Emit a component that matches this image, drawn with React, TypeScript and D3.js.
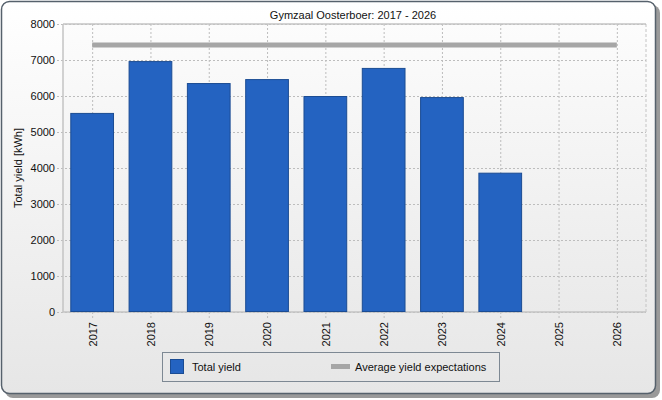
import { useEffect, useRef } from "react";
import * as d3 from "d3";

const WIDTH = 662;
const HEIGHT = 400;
const MARGIN = { top: 24, right: 16, bottom: 88, left: 63 };

const years = ["2017", "2018", "2019", "2020", "2021", "2022", "2023", "2024", "2025", "2026"];
const totalYield = [5530, 6970, 6360, 6470, 6000, 6780, 5970, 3870, null, null];
const averageExpectation = 7420;
const yTicks = [0, 1000, 2000, 3000, 4000, 5000, 6000, 7000, 8000];
const title = "Gymzaal Oosterboer: 2017 - 2026";
const yLabel = "Total yield [kWh]";
const legendLabels = ["Total yield", "Average yield expectations"];

const FONT = "'Liberation Sans', Arial, sans-serif";

const App = () => {
  const ref = useRef<SVGSVGElement>(null);

  useEffect(() => {
    const svg = d3.select(ref.current);
    svg.selectAll("*").remove();

    const boundsWidth = WIDTH - MARGIN.left - MARGIN.right;
    const boundsHeight = HEIGHT - MARGIN.top - MARGIN.bottom;

    const defs = svg.append("defs");
    const bg = defs.append("linearGradient").attr("id", "bgGrad").attr("x1", 0).attr("x2", 0).attr("y1", 0).attr("y2", 1);
    bg.append("stop").attr("offset", "0%").attr("stop-color", "#ffffff");
    bg.append("stop").attr("offset", "100%").attr("stop-color", "#e6e6e6");
    const pg = defs.append("linearGradient").attr("id", "plotGrad").attr("x1", 0).attr("x2", 0).attr("y1", 0).attr("y2", 1);
    pg.append("stop").attr("offset", "0%").attr("stop-color", "#fcfcfc");
    pg.append("stop").attr("offset", "100%").attr("stop-color", "#eaeaea");

    // frame with shadow
    svg.append("rect").attr("x", 5).attr("y", 5).attr("width", 655).attr("height", 393).attr("rx", 8).attr("fill", "#9a9a9a");
    svg.append("rect").attr("x", 1.5).attr("y", 1.5).attr("width", 654).attr("height", 392).attr("rx", 8)
      .attr("fill", "url(#bgGrad)").attr("stroke", "#56616c").attr("stroke-width", 1.5);

    svg.append("text").attr("x", 353).attr("y", 19).attr("text-anchor", "middle")
      .attr("font-family", FONT).attr("font-size", 11).attr("fill", "#111").text(title);

    const g = svg.append("g").attr("transform", `translate(${MARGIN.left},${MARGIN.top})`);

    const x = d3.scaleBand().domain(years).range([0, boundsWidth]).paddingInner(0.25).paddingOuter(0.125);
    const xc = d3.scalePoint().domain(years).range([0, boundsWidth]).padding(0.5);
    const y = d3.scaleLinear().domain([0, 8000]).range([boundsHeight, 0]);

    g.append("rect").attr("width", boundsWidth).attr("height", boundsHeight).attr("fill", "url(#plotGrad)");

    // grid
    const yAxis = g.append("g").call(d3.axisLeft(y).tickValues(yTicks).tickSize(-boundsWidth - 6).tickPadding(8).tickFormat(d3.format("d")))
      .attr("transform", `translate(${-6},0)`);
    yAxis.select(".domain").remove();
    yAxis.selectAll(".tick line").attr("stroke", "#bdbdbd").attr("stroke-dasharray", "2,2").attr("x1", 0).attr("x2", boundsWidth + 6);
    yAxis.selectAll(".tick text").attr("font-family", FONT).attr("font-size", 11).attr("fill", "#111").attr("x", -2);

    const xAxis = g.append("g").attr("transform", `translate(0,${boundsHeight})`)
      .call(d3.axisBottom(xc).tickSize(-boundsHeight).tickSizeOuter(0));
    xAxis.select(".domain").remove();
    xAxis.selectAll(".tick line").attr("stroke", "#bdbdbd").attr("stroke-dasharray", "2,2").attr("y1", 6);
    xAxis.selectAll(".tick text").attr("font-family", FONT).attr("font-size", 11).attr("fill", "#111")
      .attr("transform", "rotate(-90)").attr("text-anchor", "end").attr("x", -10).attr("y", 0).attr("dy", "0.35em");

    // plot border
    g.append("path").attr("d", `M0,0H${boundsWidth}M0,0V${boundsHeight}H${boundsWidth}`)
      .attr("fill", "none").attr("stroke", "#c4c4c4").attr("stroke-width", 1.5);
    g.append("line").attr("x1", boundsWidth).attr("x2", boundsWidth).attr("y1", 0).attr("y2", boundsHeight)
      .attr("stroke", "#c4c4c4").attr("stroke-dasharray", "3,2");

    // bars
    const data = years.map((yr, i) => ({ yr, v: totalYield[i] })).filter((d) => d.v != null) as { yr: string; v: number }[];
    g.selectAll(".bar").data(data).enter().append("rect")
      .attr("x", (d) => x(d.yr)! + 0.5).attr("y", (d) => y(d.v) + 0.5)
      .attr("width", x.bandwidth() - 1).attr("height", (d) => boundsHeight - y(d.v) - 1)
      .attr("fill", "#2463c1").attr("stroke", "#1b4c93").attr("stroke-width", 1);

    // average line
    g.append("line").attr("x1", xc(years[0])!).attr("x2", xc(years[years.length - 1])!)
      .attr("y1", y(averageExpectation)).attr("y2", y(averageExpectation))
      .attr("stroke", "#a6a6a6").attr("stroke-width", 5);

    // y label
    svg.append("text").attr("transform", `translate(22,${MARGIN.top + boundsHeight / 2}) rotate(-90)`)
      .attr("text-anchor", "middle").attr("font-family", FONT).attr("font-size", 11).attr("fill", "#111").text(yLabel);

    // legend
    const lg = svg.append("g");
    lg.append("rect").attr("x", 162.5).attr("y", 352.5).attr("width", 337).attr("height", 29)
      .attr("fill", "none").attr("stroke", "#7d8893");
    lg.append("rect").attr("x", 170.5).attr("y", 359.5).attr("width", 13).attr("height", 14)
      .attr("fill", "#2463c1").attr("stroke", "#1b4c93");
    lg.append("text").attr("x", 192).attr("y", 367).attr("dy", "0.35em").attr("font-family", FONT).attr("font-size", 11).attr("fill", "#111").text(legendLabels[0]);
    lg.append("line").attr("x1", 331).attr("x2", 350).attr("y1", 366.5).attr("y2", 366.5).attr("stroke", "#a6a6a6").attr("stroke-width", 5);
    lg.append("text").attr("x", 355).attr("y", 367).attr("dy", "0.35em").attr("font-family", FONT).attr("font-size", 11).attr("fill", "#111").text(legendLabels[1]);
  }, []);

  return (
    <div style={{ position: "absolute", left: 0, top: 0 }}>
      <svg ref={ref} width={WIDTH} height={HEIGHT} style={{ display: "block" }} />
    </div>
  );
};

export default App;
